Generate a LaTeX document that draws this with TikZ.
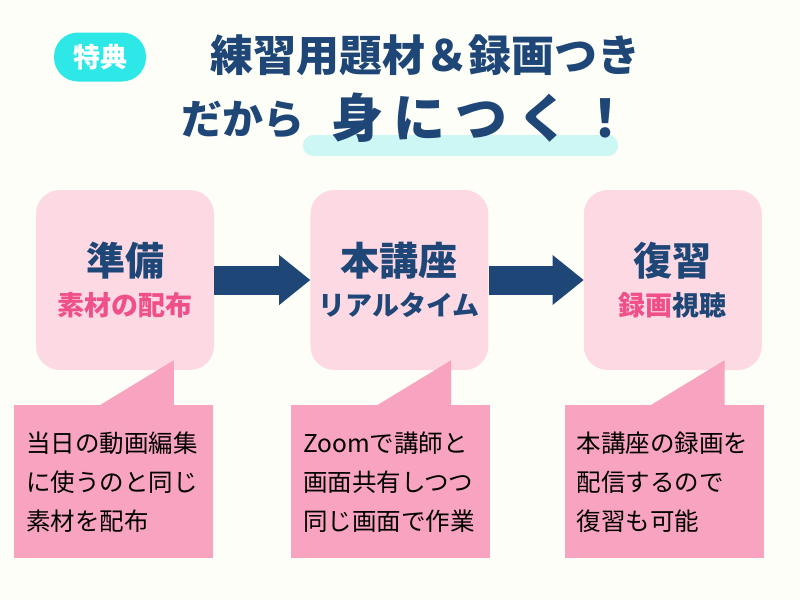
\documentclass[tikz,border=0pt]{standalone}
\usepackage{fontspec}
\setmainfont{Noto Sans CJK JP}
\usetikzlibrary{positioning, arrows.meta}

\definecolor{navy}{HTML}{1E4677}
\definecolor{rose}{HTML}{F0508A}
\definecolor{paleP}{HTML}{FCD9E3}
\definecolor{deepP}{HTML}{F8A3BF}
\definecolor{aqua}{HTML}{2EE8E8}
\definecolor{paleA}{HTML}{CCF7F4}
\definecolor{bgcol}{HTML}{FEFEF8}

\newcommand{\fs}[2]{\fontsize{#1}{#2}\selectfont}

\begin{document}
\begin{tikzpicture}[x=1pt,y=-1pt]
\tikzstyle{every node}=[inner sep=0pt]
\tikzstyle{stage}=[fill=paleP, rounded corners=24pt, minimum width=178pt, minimum height=180pt, align=center, text=navy, font=\bfseries\fs{27}{40}]
\tikzstyle{note}=[fill=deepP, minimum width=199pt, minimum height=153pt, text width=175pt, inner xsep=12pt, align=left, anchor=north west, font=\fs{24.5}{39}]
\tikzstyle{flow}=[draw=navy, line width=29pt, -{Triangle[length=31pt,width=50pt,line width=0pt]}]

\fill[bgcol] (0,0) rectangle (800,600);

% heading
\node[fill=aqua, text=white, font=\bfseries\fs{27}{27}, rounded corners=24pt, minimum width=92pt, minimum height=49pt] (B) at (100,57) {特典};
\node[text=navy, font=\bfseries\fs{43}{43}] (T1) at (425,55) {練習用題材＆録画つき};
\fill[paleA, rounded corners=10pt] (303,135) rectangle (618,156);
\node[text=navy, font=\bfseries\fs{41}{41}] (T2) at (243,120) {だから};
\node[text=navy, font=\bfseries\fs{52}{52}, anchor=west] (T3) at (331,118)
  {身\hspace{10pt}に\hspace{10pt}つ\hspace{10pt}く\hspace{10pt}！};

% three steps
\node[stage] (P) at (125,280) {{\fs{39}{39}準備}\\{\color{rose}素材の配布}};
\node[stage, right=96pt of P] (L) {{\fs{39}{39}本講座}\\リアルタイム};
\node[stage, right=95pt of L] (R) {{\fs{39}{39}復習}\\{\color{rose}録画}視聴};

\draw[flow] (P) -- (L);
\draw[flow] (L) -- (R);

% notes
\node[note] (N1) at ([xshift=-22pt,yshift=-35pt]P.south west) {当日の動画編集\\に使うのと同じ\\素材を配布};
\node[note] (N2) at ([xshift=-19pt,yshift=-35pt]L.south west) {Zoomで講師と\\画面共有しつつ\\同じ画面で作業};
\node[note] (N3) at ([xshift=-19pt,yshift=-35pt]R.south west) {本講座の録画を\\配信するので\\復習も可能};

\foreach \n in {N1,N2,N3}
  \fill[deepP] ([xshift=86pt]\n.north west) -- ([xshift=160pt]\n.north west)
    -- ([xshift=160pt,yshift=45pt]\n.north west) -- cycle;
\end{tikzpicture}
\end{document}
